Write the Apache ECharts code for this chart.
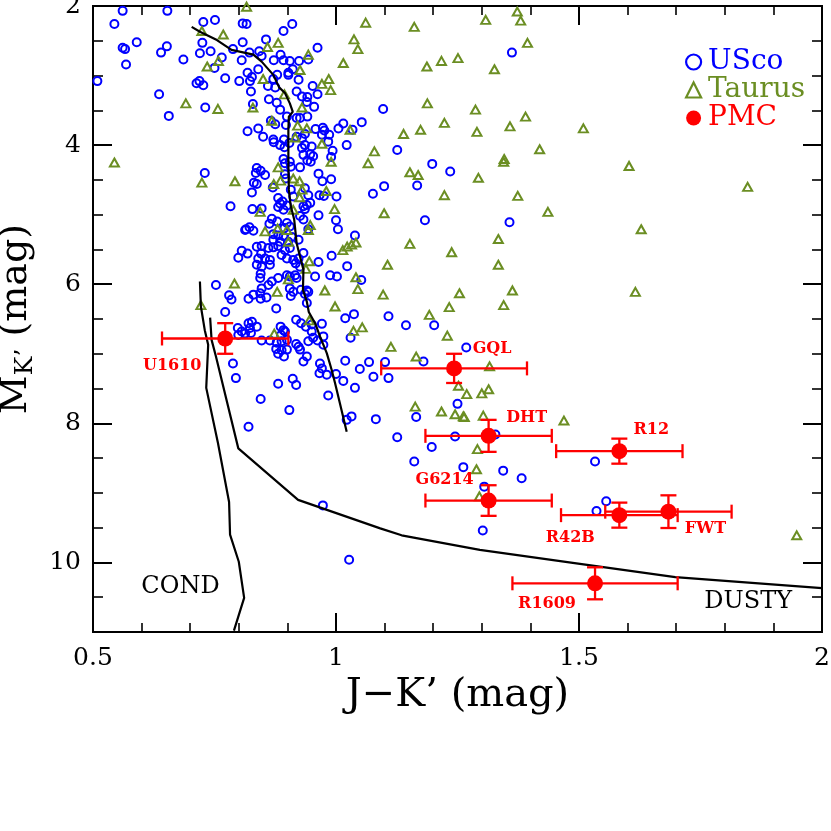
<!DOCTYPE html>
<html>
<head>
<meta charset="utf-8">
<title>USco / Taurus / PMC colour-magnitude diagram</title>
<script src="https://cdn.jsdelivr.net/npm/echarts@6/dist/echarts.min.js"></script>
<style>
  html, body { margin: 0; padding: 0; background: #fff; }
  #chart { width: 831px; height: 831px; }
</style>
</head>
<body>
<div id="chart"></div>
<script>
// J-K' vs M_K' values
var usco = [
  [0.561,2.07],[0.653,2.07],[0.544,2.26],[0.590,2.52],[0.561,2.60],[0.566,2.62],[0.568,2.84],[0.640,2.67],
  [0.652,2.58],[0.509,3.08],[0.636,3.27],[0.656,3.58],[0.686,2.77],
  [0.727,2.23],[0.751,2.20],[0.808,2.25],[0.816,2.26],[0.910,2.26],[0.892,2.36],[0.725,2.53],[0.720,2.68],
  [0.742,2.65],[0.765,2.74],[0.750,2.89],[0.808,2.52],[0.788,2.62],[0.806,2.78],[0.856,2.48],[0.822,2.67],
  [0.842,2.65],[0.847,2.72],[0.840,2.91],[0.818,2.96],[0.827,3.02],[0.823,3.08],[0.801,3.08],[0.772,3.04],
  [0.713,3.11],[0.719,3.08],[0.727,3.14],[0.825,3.23],[0.829,3.41],[0.731,3.46],[0.872,2.78],[0.886,2.70],
  [0.892,2.78],[0.905,2.79],[0.924,2.79],[0.943,2.77],[0.962,2.60],[0.911,2.91],[0.902,2.99],[0.923,3.06],
  [0.902,2.96],[0.879,2.99],[0.871,3.05],[0.860,3.15],[0.875,3.17],[0.919,3.23],[0.930,3.30],[0.941,3.31],
  [0.940,3.38],[0.952,3.15],[0.962,3.27],[0.955,3.45],[0.862,3.34],[0.878,3.39],[0.885,3.49],[0.899,3.59],
  [0.919,3.61],[0.926,3.61],[0.941,3.59],[0.866,3.65],[0.875,3.70],[0.818,3.80],[0.840,3.76],[0.850,3.88],
  [0.897,3.71],[0.936,3.84],[0.958,3.77],[0.973,3.75],[0.976,3.79],[0.971,3.85],[0.986,3.85],[1.005,3.76],
  [0.871,3.92],[0.893,3.92],[0.919,3.88],[0.930,3.90],
  [0.872,3.96],[0.885,4.00],[0.894,4.03],[0.904,3.97],[0.936,4.00],[0.930,4.04],[0.950,4.02],[0.933,4.14],
  [0.947,4.13],[0.953,4.16],[0.941,4.22],[0.948,4.24],[0.984,3.95],[0.993,4.08],[0.990,4.17],[0.892,4.20],
  [0.895,4.26],[0.905,4.24],[0.907,4.31],[0.926,4.32],[0.837,4.33],[0.845,4.37],[0.854,4.43],[0.835,4.40],
  [0.730,4.40],[0.895,4.42],[0.897,4.48],[0.831,4.54],[0.837,4.56],[0.827,4.68],[0.870,4.61],[0.964,4.41],
  [0.972,4.52],[0.990,4.49],[0.966,4.72],[0.975,4.73],[1.001,4.74],[0.907,4.64],[0.912,4.74],[0.936,4.62],
  [0.943,4.72],[0.783,4.88],[0.828,4.92],[0.847,4.91],[0.881,4.76],[0.885,4.84],[0.881,4.89],[0.892,4.93],
  [0.899,4.87],[0.890,4.81],[0.933,4.88],[0.940,4.86],[0.947,4.83],[0.936,4.92],[0.926,5.02],[0.933,5.07],
  [0.964,5.01],[1.000,5.08],[1.004,5.21],[0.868,5.06],[0.879,5.10],[0.863,5.13],[0.815,5.21],[0.822,5.18],
  [0.830,5.23],[0.813,5.22],[0.899,5.12],[0.905,5.17],[0.894,5.19],[0.871,5.28],[0.881,5.30],[0.892,5.31],
  [0.871,5.36],[0.885,5.39],[0.902,5.39],[0.909,5.32],[0.923,5.36],[0.943,5.21],[0.837,5.46],[0.847,5.45],
  [0.861,5.48],[0.871,5.47],[0.881,5.45],[0.895,5.51],[0.905,5.48],[0.806,5.52],[0.818,5.56],[0.799,5.62],
  [0.846,5.56],[0.840,5.63],[0.854,5.63],[0.864,5.65],[0.888,5.58],[0.899,5.63],[0.912,5.65],[0.923,5.63],
  [0.933,5.55],[0.837,5.72],[0.847,5.75],[0.864,5.72],[0.964,5.68],[0.991,5.59],[0.917,5.70],[0.926,5.75],
  [0.845,5.85],[0.844,5.91],[0.868,5.96],[0.881,5.91],[0.861,6.01],[0.899,5.87],[0.905,5.89],[0.916,5.87],
  [0.919,5.91],[0.957,5.89],[0.988,5.87],[1.002,5.89],[0.753,6.01],[0.847,6.06],[0.844,6.13],[0.905,6.06],
  [0.912,6.11],[0.907,6.17],[0.928,6.08],[0.940,6.09],[0.943,6.11],[0.936,6.14],[0.780,6.16],[0.785,6.22],
  [0.820,6.21],[0.830,6.15],[0.845,6.21],[0.857,6.19],[0.940,6.27],[0.877,6.35],[0.772,6.40],[0.918,6.51],
  [0.928,6.56],[0.938,6.61],[0.950,6.58],[0.971,6.57],[0.950,6.68],[0.974,6.75],[0.953,6.77],[0.798,6.63],
  [0.806,6.68],[0.820,6.56],[0.827,6.54],[0.823,6.63],[0.837,6.61],[0.799,6.73],[0.813,6.71],[0.825,6.70],
  [0.886,6.61],[0.892,6.66],[0.887,6.73],[0.895,6.68],[0.847,6.81],[0.864,6.81],[0.878,6.84],[0.888,6.82],
  [0.899,6.80],[0.877,6.93],[0.881,7.00],[0.893,7.04],[0.888,6.95],[0.899,6.94],[0.918,6.86],[0.926,6.94],
  [0.923,6.90],[0.943,6.82],[0.962,6.81],[0.974,6.87],[0.940,7.04],[0.933,7.11],[0.967,7.14],[0.971,7.21],
  [0.966,7.28],[0.981,7.30],[1.000,7.29],[0.788,7.14],[0.794,7.35],[0.881,7.43],[0.911,7.36],[0.918,7.45],
  [0.845,7.65],[0.984,7.60],[0.904,7.81],[0.820,8.05],
  [1.362,2.67],[1.097,3.48],[1.053,3.67],[1.034,3.78],[1.015,3.69],[1.022,4.00],[1.126,4.07],[1.198,4.27],
  [1.235,4.38],[1.099,4.59],[1.076,4.70],[1.167,4.58],[1.183,5.08],[1.357,5.11],[1.039,5.30],[1.023,5.74],
  [1.052,5.94],[1.037,6.43],[1.019,6.49],[1.108,6.46],[1.144,6.59],[1.202,6.59],[1.030,6.77],[1.268,6.91],
  [1.019,7.10],[1.049,7.22],[1.068,7.12],[1.101,7.12],[1.077,7.33],[1.108,7.35],[1.039,7.49],[1.015,7.39],
  [1.180,7.11],[1.250,7.72],[1.032,7.90],[1.082,7.94],[1.165,7.91],[1.022,7.95],[1.126,8.20],[1.245,8.19],
  [1.328,8.16],[1.197,8.34],[1.161,8.55],[1.262,8.63],[1.344,8.68],[1.382,8.79],[1.305,8.91],[1.302,9.54],
  [1.533,8.55],[1.556,9.12],[1.536,9.26],[0.973,9.18],[1.027,9.96]
];

var taurus = [
  [0.816,2.01],[0.724,2.36],[0.768,2.41],[0.758,2.79],[0.735,2.87],[0.859,2.59],[0.881,2.53],[0.943,2.70],
  [0.926,2.92],[0.850,3.05],[0.894,3.27],[0.691,3.40],[0.757,3.48],[0.829,3.46],[0.930,3.46],[0.868,3.65],
  [0.921,3.72],[0.940,3.76],[0.916,3.89],[0.971,3.98],[0.985,3.05],[0.971,3.12],[0.989,3.21],[1.015,2.82],
  [0.544,4.25],[0.881,4.32],[0.724,4.54],[0.792,4.52],[0.990,4.24],[0.872,4.56],[0.886,4.51],[0.912,4.48],
  [0.925,4.52],[0.930,4.64],[0.925,4.75],[0.980,4.66],[0.997,4.92],[0.844,4.96],[1.029,3.78],
  [0.912,4.93],[0.854,5.24],[0.880,5.20],[0.899,5.22],[0.902,5.39],[0.947,5.15],[0.943,5.22],[0.945,5.67],
  [0.791,5.99],[0.902,5.93],[0.938,5.78],[0.879,6.11],[0.977,6.09],[0.998,6.32],[0.722,6.30],[0.945,6.52],
  [0.873,6.71],
  [1.238,5.54],[1.106,5.72],[1.334,5.72],[1.041,5.90],[1.045,6.07],[1.097,6.15],[1.254,6.13],[1.233,6.33],
  [1.192,6.44],[1.054,6.62],[1.036,6.67],[1.229,6.74],[1.113,6.90],[1.165,7.04],[1.316,7.18],[1.252,7.46],
  [1.269,7.58],[1.300,7.57],[1.314,7.51],[1.163,7.76],[1.217,7.83],[1.245,7.87],[1.262,7.90],[1.264,7.91],
  [1.303,7.89],
  [1.061,2.24],[1.161,2.30],[1.037,2.48],[1.045,2.62],[1.308,2.20],[1.373,2.08],[1.380,2.21],[1.394,2.53],
  [1.187,2.87],[1.217,2.79],[1.251,2.75],[1.326,2.91],[1.188,3.40],[1.287,3.49],[1.390,3.59],[1.223,3.68],
  [1.139,3.84],[1.174,3.78],[1.290,3.81],[1.358,3.73],[1.419,4.06],[1.346,4.20],[1.345,4.24],[1.079,4.09],
  [1.066,4.26],[1.152,4.39],[1.169,4.43],[1.293,4.47],[1.223,4.72],[1.374,4.73],[1.099,4.98],[1.436,4.96],
  [1.509,3.76],[1.603,4.30],[1.847,4.60],[1.628,5.21],[1.616,6.11],
  [1.152,5.42],[1.334,5.35],[1.041,5.40],[1.032,5.43],[1.023,5.46],[1.014,5.51],[1.363,6.09],[1.345,6.30],
  [1.469,7.96],[1.291,8.37],[1.289,8.66],[1.295,9.05],[1.948,9.61]
];

// planetary-mass companions with errors
var pmcNames = ['U1610', 'GQL', 'DHT', 'R12', 'G6214', 'R42B', 'FWT', 'R1609'];
var pmcJK    = [0.772, 1.243, 1.314, 1.583, 1.314, 1.583, 1.684, 1.533];
var pmcMK    = [6.78, 7.21, 8.18, 8.40, 9.11, 9.32, 9.27, 10.30];
var pmcJKErr = [0.13, 0.15, 0.13, 0.13, 0.13, 0.12, 0.13, 0.17];
var pmcMKErr = [0.22, 0.21, 0.23, 0.18, 0.22, 0.18, 0.235, 0.23];

// model tracks
var isochrone = [
  [0.703,2.30],[0.720,2.37],[0.755,2.49],[0.785,2.63],[0.811,2.67],[0.830,2.70],[0.847,2.80],[0.871,2.99],
  [0.883,3.17],[0.895,3.25],[0.905,3.40],[0.911,3.52],[0.903,3.59],[0.902,3.78],[0.902,4.26],[0.903,4.64],
  [0.907,4.88],[0.914,5.07],[0.919,5.41],[0.926,5.60],[0.933,5.79],[0.932,6.08],[0.940,6.25],[0.944,6.40],
  [0.957,6.56],[0.967,6.75],[0.981,6.99],[0.991,7.23],[0.998,7.42],[1.008,7.71],[1.022,8.12]
];
var cond = [
  [0.720,5.96],[0.722,6.32],[0.730,6.66],[0.737,6.87],[0.733,7.49],[0.757,8.28],[0.780,9.13],[0.782,9.60],
  [0.800,9.99],[0.811,10.51],[0.790,10.98]
];
var dusty = [
  [0.741,6.48],[0.744,6.80],[0.753,7.04],[0.799,8.36],[0.922,9.10],[1.091,9.51],[1.135,9.61],[1.296,9.82],
  [1.502,10.02],[1.698,10.21],[2.000,10.37]
];
var modelLabels = [
  { name: 'COND', value: [0.680, 10.35] },
  { name: 'DUSTY', value: [1.848, 10.56] }
];

// label nudges (px) for the companion names
var pmcLabelOffsets = {
  U1610: [-53, 27], GQL: [38, -20], DHT: [38, -18], R12: [32, -21],
  G6214: [-44, -21], R42B: [-49, 23], FWT: [37, 17], R1609: [-48, 21]
};

var FONT = 'DejaVu Serif';
var BLUE = '#0000ff';
var OLIVE = '#6b8e23';
var RED = '#ff0000';

var pmcPoints = pmcNames.map(function (n, i) {
  return {
    name: n,
    value: [pmcJK[i], pmcMK[i]],
    label: { offset: pmcLabelOffsets[n] }
  };
});
var pmcErrors = pmcNames.map(function (n, i) {
  return [pmcJK[i], pmcMK[i], pmcJKErr[i], pmcMKErr[i]];
});

function renderErrorBar(params, api) {
  var x = api.value(0), y = api.value(1), ex = api.value(2), ey = api.value(3);
  var c = api.coord([x, y]);
  var l = api.coord([x - ex, y]);
  var r = api.coord([x + ex, y]);
  var t = api.coord([x, y - ey]);
  var b = api.coord([x, y + ey]);
  var capX = 7, capY = 8;
  var st = { stroke: RED, lineWidth: 2.3 };
  function seg(x1, y1, x2, y2) {
    return { type: 'line', shape: { x1: x1, y1: y1, x2: x2, y2: y2 }, style: st };
  }
  return {
    type: 'group',
    children: [
      seg(l[0], c[1], r[0], c[1]),
      seg(l[0], c[1] - capX, l[0], c[1] + capX),
      seg(r[0], c[1] - capX, r[0], c[1] + capX),
      seg(c[0], t[1], c[0], b[1]),
      seg(c[0] - capY, t[1], c[0] + capY, t[1]),
      seg(c[0] - capY, b[1], c[0] + capY, b[1])
    ]
  };
}

function xAxisDef(pos, showLabel) {
  return {
    type: 'value', position: pos, min: 0.5, max: 2, interval: 0.5,
    axisLine: { show: true, onZero: false, lineStyle: { color: '#000', width: 2 } },
    axisTick: { show: true, inside: true, length: 19, lineStyle: { color: '#000', width: 2 } },
    minorTick: { show: true, splitNumber: 5, length: 9, lineStyle: { color: '#000', width: 1.6 } },
    axisLabel: { show: showLabel, margin: 14, color: '#000', fontFamily: FONT, fontSize: 25 },
    splitLine: { show: false }
  };
}
function yAxisDef(pos, interval, tickLen, showLabel) {
  return {
    type: 'value', position: pos, inverse: true, min: 2, max: 11, interval: interval,
    axisLine: { show: true, onZero: false, lineStyle: { color: '#000', width: 2 } },
    axisTick: { show: true, inside: true, length: tickLen, lineStyle: { color: '#000', width: tickLen > 12 ? 2 : 1.6 } },
    axisLabel: {
      show: showLabel, margin: 12, color: '#000', fontFamily: FONT, fontSize: 25,
      formatter: function (v) { return v === 11 ? '' : String(v); }
    },
    splitLine: { show: false }
  };
}

var xBottom = xAxisDef('bottom', true);
xBottom.name = 'J\u2212K\u2019 (mag)';
xBottom.nameLocation = 'middle';
xBottom.nameGap = 32;
xBottom.nameTextStyle = { color: '#000', fontFamily: FONT, fontSize: 40 };

var yLeft = yAxisDef('left', 2, 19, true);
yLeft.name = '{m|M}{s|K\u2019} {m|(mag)}';
yLeft.nameLocation = 'middle';
yLeft.nameRotate = 90;
yLeft.nameGap = 44;
yLeft.nameTextStyle = {
  color: '#000', fontFamily: FONT, fontSize: 38,
  rich: {
    m: { color: '#000', fontFamily: FONT, fontSize: 38 },
    s: { color: '#000', fontFamily: FONT, fontSize: 25, padding: [20, 0, 0, 0] }
  }
};

var chart = echarts.init(document.getElementById('chart'), null, { renderer: 'canvas' });

chart.setOption({
  animation: false,
  backgroundColor: '#fff',
  grid: { left: 93, right: 9, top: 6, bottom: 199, outerBoundsMode: 'none' },
  legend: {
    orient: 'vertical', left: 680, top: 43,
    itemWidth: 15, itemHeight: 15, itemGap: 0,
    selectedMode: false,
    textStyle: { fontFamily: FONT, fontSize: 28, lineHeight: 28, padding: [0, 0, 0, 2] },
    data: [
      { name: 'USco', icon: 'circle', itemStyle: { color: 'rgba(0,0,0,0)', borderColor: BLUE, borderWidth: 2.2, opacity: 1 }, textStyle: { color: BLUE } },
      { name: 'Taurus', icon: 'triangle', itemStyle: { color: 'rgba(0,0,0,0)', borderColor: OLIVE, borderWidth: 2.2, opacity: 1 }, textStyle: { color: OLIVE } },
      { name: 'PMC', icon: 'circle', itemStyle: { color: RED, opacity: 1 }, textStyle: { color: RED } }
    ]
  },
  xAxis: [xBottom, xAxisDef('top', false)],
  yAxis: [yLeft, yAxisDef('right', 2, 19, false), yAxisDef('left', 0.5, 10, false), yAxisDef('right', 0.5, 10, false)],
  series: [
    {
      name: 'USco', type: 'scatter', data: usco, symbol: 'circle', symbolSize: 8,
      itemStyle: { color: 'rgba(0,0,0,0)', borderColor: BLUE, borderWidth: 2, opacity: 1 }, z: 3
    },
    {
      name: 'Taurus', type: 'scatter', data: taurus, symbol: 'triangle', symbolSize: [9, 8],
      itemStyle: { color: 'rgba(0,0,0,0)', borderColor: OLIVE, borderWidth: 2, opacity: 1 }, z: 4
    },
    {
      name: 'isochrone', type: 'line', data: isochrone, showSymbol: false, symbol: 'none',
      lineStyle: { color: '#000', width: 2.2 }, z: 5
    },
    {
      name: 'COND track', type: 'line', data: cond, showSymbol: false, symbol: 'none',
      lineStyle: { color: '#000', width: 2.2 }, z: 5
    },
    {
      name: 'DUSTY track', type: 'line', data: dusty, showSymbol: false, symbol: 'none',
      lineStyle: { color: '#000', width: 2.2 }, z: 5
    },
    {
      name: 'errors', type: 'custom', data: pmcErrors, renderItem: renderErrorBar,
      encode: { x: 0, y: 1 }, z: 6
    },
    {
      name: 'PMC', type: 'scatter', data: pmcPoints, symbol: 'circle', symbolSize: 16,
      itemStyle: { color: RED, opacity: 1 },
      label: {
        show: true, position: 'inside', formatter: '{b}',
        color: RED, fontFamily: FONT, fontWeight: 'bold', fontSize: 16
      },
      z: 7
    },
    {
      name: 'models', type: 'scatter', data: modelLabels, symbolSize: 1,
      itemStyle: { color: 'rgba(0,0,0,0)', opacity: 1 },
      label: { show: true, position: 'inside', formatter: '{b}', color: '#000', fontFamily: FONT, fontSize: 24 },
      z: 6
    }
  ]
});
</script>
</body>
</html>
